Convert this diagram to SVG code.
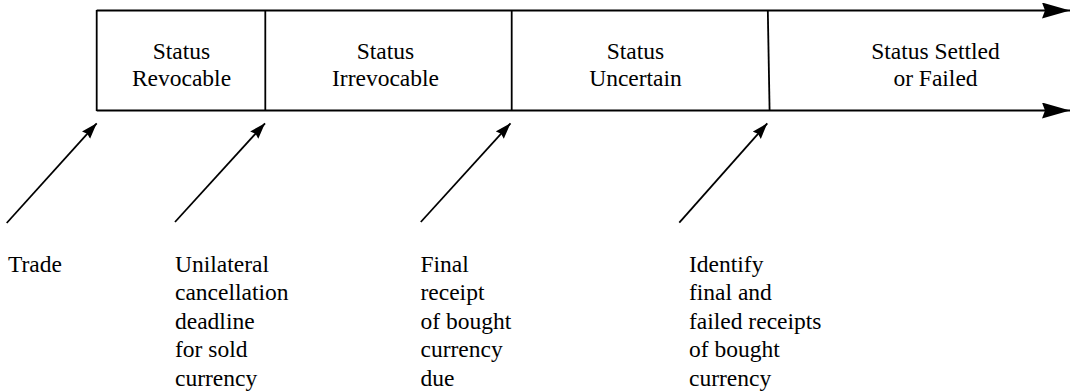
<svg xmlns="http://www.w3.org/2000/svg" width="1070" height="392" viewBox="0 0 1070 392">
<style>
.ln{stroke:#000;stroke-width:1.8;fill:none}
.t{font-family:"Liberation Serif","Times New Roman",serif;font-size:23.5px;fill:#000}
.c{text-anchor:middle}
</style>
<defs>
<marker id="big" markerUnits="userSpaceOnUse" markerWidth="30" markerHeight="20" refX="28" refY="8" orient="auto">
<path d="M0,0 L28,8 L0,16 L3,8 z" fill="#000"/>
</marker>
<marker id="small" markerUnits="userSpaceOnUse" markerWidth="17" markerHeight="12" refX="16" refY="5.5" orient="auto">
<path d="M0,0 L16,5.5 L0,11 L2,5.5 z" fill="#000"/>
</marker>
</defs>
<g id="connectors">
<line class="ln" x1="96.7" y1="10.5" x2="1070" y2="10.5" marker-end="url(#big)"/>
<line class="ln" x1="96.7" y1="110.5" x2="1070" y2="110.5" marker-end="url(#big)"/>
<line class="ln" x1="96.7" y1="10" x2="96.7" y2="111"/>
<line class="ln" x1="265.3" y1="10" x2="265.3" y2="111"/>
<line class="ln" x1="511.7" y1="10" x2="511.7" y2="111"/>
<line class="ln" x1="767.8" y1="10" x2="769.6" y2="111"/>
<line class="ln" x1="6.7" y1="223" x2="96.7" y2="123.3" marker-end="url(#small)"/>
<line class="ln" x1="175" y1="222" x2="265" y2="123.3" marker-end="url(#small)"/>
<line class="ln" x1="420.8" y1="222" x2="510.5" y2="123.3" marker-end="url(#small)"/>
<line class="ln" x1="679.3" y1="222.7" x2="767.3" y2="123.3" marker-end="url(#small)"/>
</g>
<g id="revocable">
<text class="t c" x="181.5" y="59">Status</text>
<text class="t c" x="181.5" y="86">Revocable</text>
</g>
<g id="irrevocable">
<text class="t c" x="385.5" y="59">Status</text>
<text class="t c" x="385.5" y="86">Irrevocable</text>
</g>
<g id="uncertain">
<text class="t c" x="635.5" y="59">Status</text>
<text class="t c" x="635.5" y="86">Uncertain</text>
</g>
<g id="settled">
<text class="t c" x="935.5" y="59">Status Settled</text>
<text class="t c" x="935.5" y="86">or Failed</text>
</g>
<g id="trade">
<text class="t" x="8" y="271.5">Trade</text>
</g>
<g id="unilateral">
<text class="t" x="175" y="271.5">Unilateral</text>
<text class="t" x="175" y="300">cancellation</text>
<text class="t" x="175" y="328.5">deadline</text>
<text class="t" x="175" y="357">for sold</text>
<text class="t" x="175" y="385.5">currency</text>
</g>
<g id="final">
<text class="t" x="420.5" y="271.5">Final</text>
<text class="t" x="420.5" y="300">receipt</text>
<text class="t" x="420.5" y="328.5">of bought</text>
<text class="t" x="420.5" y="357">currency</text>
<text class="t" x="420.5" y="385.5">due</text>
</g>
<g id="identify">
<text class="t" x="689" y="271.5">Identify</text>
<text class="t" x="689" y="300">final and</text>
<text class="t" x="689" y="328.5">failed receipts</text>
<text class="t" x="689" y="357">of bought</text>
<text class="t" x="689" y="385.5">currency</text>
</g>
</svg>
